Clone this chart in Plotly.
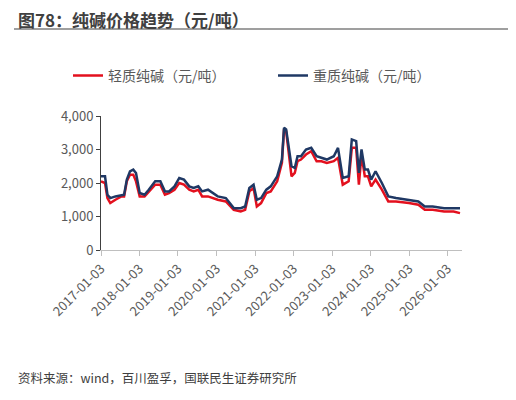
import plotly.graph_objects as go

dates = ["2017-01-03","2017-02-10","2017-03-05","2017-04-01","2017-05-20","2017-07-15","2017-08-10","2017-09-05","2017-10-05","2017-11-05","2017-12-01",
"2018-01-05","2018-02-20","2018-04-01","2018-06-01","2018-07-20","2018-09-01","2018-10-10","2018-12-01","2019-01-15","2019-03-01","2019-04-20","2019-06-01","2019-07-15","2019-08-20","2019-10-15","2019-12-01",
"2020-01-15","2020-04-01","2020-06-15","2020-08-20","2020-10-01","2020-11-10","2020-12-20","2021-01-20","2021-03-01","2021-04-20","2021-06-01","2021-08-01","2021-09-15","2021-10-05","2021-10-25","2021-12-15","2022-01-15","2022-02-10","2022-03-15","2022-05-01","2022-06-20","2022-08-10","2022-09-25","2022-11-15","2023-01-20","2023-03-01","2023-04-15","2023-06-10","2023-07-10","2023-08-20","2023-09-15","2023-10-10","2023-11-10","2023-12-10","2024-01-10","2024-02-20","2024-04-20","2024-06-20","2024-09-01","2025-01-01","2025-04-01","2025-06-01","2025-08-15","2025-12-01","2026-03-01","2026-05-01"]
light = [2050,2000,1550,1400,1500,1600,1600,2050,2250,2250,2050,
1600,1600,1750,1950,1950,1650,1700,1800,2000,1950,1800,1750,1800,1600,1600,1550,
1500,1450,1200,1150,1200,1750,1850,1300,1400,1700,1750,2050,2600,3600,3550,2200,2300,2650,2700,2850,2950,2650,2650,2600,2650,2750,1950,2050,3050,3050,1950,2850,2200,2200,1900,2100,1800,1450,1450,1400,1350,1200,1200,1150,1150,1100]
heavy = [2200,2200,1650,1550,1600,1650,1650,2100,2350,2400,2300,
1700,1650,1800,2050,2050,1750,1750,1900,2150,2100,1900,1850,1900,1750,1800,1700,
1600,1550,1250,1250,1300,1850,1950,1500,1550,1800,1900,2200,2700,3650,3600,2500,2450,2800,2800,3000,3050,2800,2750,2700,2800,3050,2150,2200,3300,3250,2300,3000,2400,2400,2100,2350,2000,1600,1550,1500,1450,1300,1300,1250,1250,1250]

fig = go.Figure()
fig.add_trace(go.Scatter(x=dates, y=light, mode="lines", name="轻质纯碱（元/吨）", line=dict(color="#e3101e", width=2.5), legend="legend", showlegend=True))
fig.add_trace(go.Scatter(x=dates, y=heavy, mode="lines", name="重质纯碱（元/吨）", line=dict(color="#1f3864", width=2.5), legend="legend2", showlegend=True))

ticks = ["2017-01-03","2018-01-03","2019-01-03","2020-01-03","2021-01-03","2022-01-03","2023-01-03","2024-01-03","2025-01-03","2026-01-03"]
font = "Noto Sans CJK SC"
lf = dict(size=14, color="#595959")
fig.update_layout(
    width=516, height=400, plot_bgcolor="white", paper_bgcolor="white", showlegend=True,
    margin=dict(l=93, r=62, t=108, b=158, autoexpand=False),
    font=dict(family=font, size=13, color="#595959"),
    legend=dict(orientation="h", x=-33/361, xanchor="left", y=1.30, yanchor="middle", font=lf),
    legend2=dict(orientation="h", x=172/361, xanchor="left", y=1.30, yanchor="middle", font=lf),
    xaxis=dict(range=["2017-01-03","2026-05-20"], tickvals=ticks, ticktext=ticks, tickangle=-45,
               showgrid=False, showline=True, linecolor="#bfbfbf", ticks="outside", ticklen=5, tickcolor="#bfbfbf",
               tickfont=dict(size=13, color="#595959")),
    yaxis=dict(range=[0, 4000], tickvals=[0,1000,2000,3000,4000], ticktext=["0","1,000","2,000","3,000","4,000"],
               showgrid=False, showline=True, linecolor="#404040", ticks="outside", ticklen=4, tickcolor="#404040",
               tickfont=dict(size=13, color="#595959")),
)
fig.add_annotation(text="<b>图78：纯碱价格趋势（元/吨）</b>", xref="paper", yref="paper", x=-85/361, y=1+97/134, xanchor="left", yanchor="middle", showarrow=False, font=dict(size=17, color="#404040", family=font))
fig.add_shape(type="line", xref="paper", yref="paper", x0=-87/361, x1=1+56/361, y0=1+87/134, y1=1+87/134, line=dict(color="#7f7f7f", width=1.5))
fig.add_annotation(text="资料来源：wind，百川盈孚，国联民生证券研究所", xref="paper", yref="paper", x=-85/361, y=-127/134, xanchor="left", yanchor="middle", showarrow=False, font=dict(size=12.5, color="#404040", family=font))
fig.write_html("out.html")
